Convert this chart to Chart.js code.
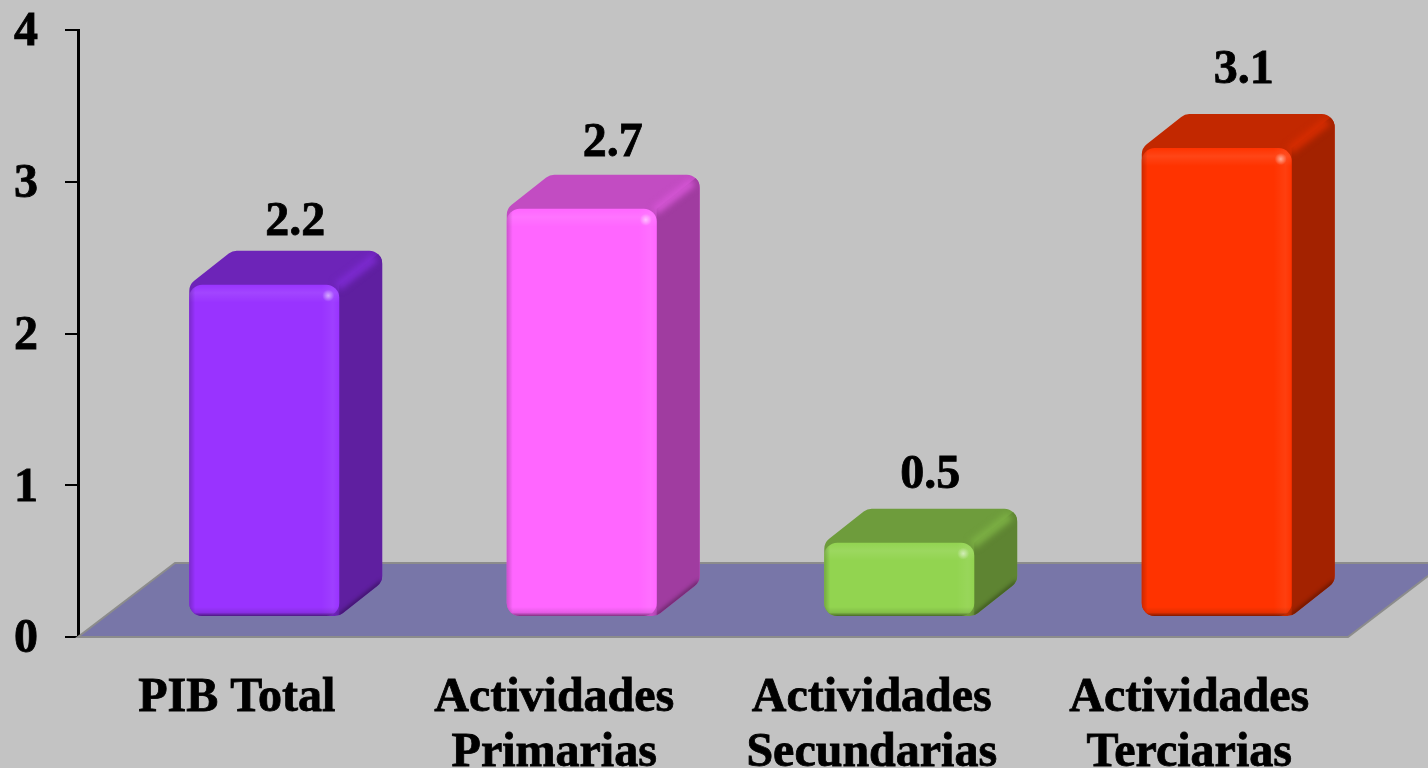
<!DOCTYPE html>
<html>
<head>
<meta charset="utf-8">
<title>PIB por actividad</title>
<script src="https://cdn.jsdelivr.net/npm/chart.js@4"></script>
<style>
    html, body { margin: 0; padding: 0; background: #c3c3c3; overflow: hidden; }
    canvas { display: block; }
</style>
</head>
<body>
<canvas id="chart" width="1428" height="768"></canvas>
<script>
// Data
const categories = ['PIB Total', ['Actividades', 'Primarias'], ['Actividades', 'Secundarias'], ['Actividades', 'Terciarias']];
const values = [2.2, 2.7, 0.5, 3.1];
const valueLabels = ['2.2', '2.7', '0.5', '3.1'];

// Colors per bar
const frontColors = ['#9933ff', '#ff66ff', '#92d450', '#ff3300'];
const topColors = ['#6d24b8', '#c24cc2', '#6e9c3c', '#c22800'];
const sideColors = ['#5f1fa0', '#a03ca0', '#5e8432', '#a32200'];
const ridgeColors = ['#7c2ad0', '#d455d4', '#7cb044', '#d62c00'];

const fontFamily = '"Liberation Serif", "Times New Roman", serif';
const depthX = 43;
const depthY = 34;
const barShiftX = 27.5;
const topLift = 18.5;
const bottomLift = 20;
const labelLift = [81, 84, 86, 96];
const labelShift = [31, 31, 31, 27];

// Rounded hexagon around the front face and its extruded back
function hullPath(ctx, l, r, t, b) {
    const pts = [[l, t], [l + depthX, t - depthY], [r + depthX, t - depthY], [r + depthX, b - depthY], [r, b], [l, b]];
    const rad = 13;
    ctx.beginPath();
    ctx.moveTo((pts[5][0] + pts[0][0]) / 2, (pts[5][1] + pts[0][1]) / 2);
    for (let i = 0; i < 6; i++) {
        const p = pts[i];
        const n = pts[(i + 1) % 6];
        ctx.arcTo(p[0], p[1], n[0], n[1], rad);
    }
    ctx.closePath();
}

function drawBar(ctx, el, i) {
    const w = el.width;
    const l = el.x + barShiftX - w / 2;
    const r = l + w;
    const t = el.y - topLift;
    const b = el.base - bottomLift;
    const h = b - t;

    // top face and side face
    ctx.save();
    hullPath(ctx, l, r, t, b);
    ctx.fillStyle = topColors[i];
    ctx.fill();
    ctx.clip();
    ctx.beginPath();
    ctx.moveTo(r, t);
    ctx.lineTo(r + depthX, t - depthY);
    ctx.lineTo(r + depthX, b - depthY);
    ctx.lineTo(r, b);
    ctx.closePath();
    ctx.fillStyle = sideColors[i];
    ctx.fill();

    // lit edge between top and side
    ctx.filter = 'blur(3px)';
    ctx.beginPath();
    ctx.moveTo(r - 2, t + 2);
    ctx.lineTo(r + depthX - 7, t - depthY + 7);
    ctx.strokeStyle = ridgeColors[i];
    ctx.lineWidth = 9;
    ctx.stroke();

    // dark lower rim of the side face
    ctx.filter = 'blur(2px)';
    ctx.beginPath();
    ctx.moveTo(r, b);
    ctx.lineTo(r + depthX, b - depthY);
    ctx.strokeStyle = 'rgba(0,0,0,0.4)';
    ctx.lineWidth = 4;
    ctx.stroke();
    ctx.restore();

    // front face
    ctx.save();
    ctx.beginPath();
    ctx.roundRect(l, t, w, h, 13);
    ctx.fillStyle = frontColors[i];
    ctx.fill();
    ctx.clip();

    const topBand = ctx.createLinearGradient(0, t, 0, t + 18);
    topBand.addColorStop(0, 'rgba(255,255,255,0)');
    topBand.addColorStop(0.45, 'rgba(255,255,255,0.09)');
    topBand.addColorStop(1, 'rgba(255,255,255,0)');
    ctx.fillStyle = topBand;
    ctx.fillRect(l, t, w, 18);

    const rightBand = ctx.createLinearGradient(r - 18, 0, r, 0);
    rightBand.addColorStop(0, 'rgba(255,255,255,0)');
    rightBand.addColorStop(0.65, 'rgba(255,255,255,0.06)');
    rightBand.addColorStop(1, 'rgba(255,255,255,0)');
    ctx.fillStyle = rightBand;
    ctx.fillRect(r - 18, t, 18, h);

    const leftBand = ctx.createLinearGradient(l, 0, l + 6, 0);
    leftBand.addColorStop(0, 'rgba(0,0,0,0.2)');
    leftBand.addColorStop(1, 'rgba(0,0,0,0)');
    ctx.fillStyle = leftBand;
    ctx.fillRect(l, t, 6, h);

    const bottomBand = ctx.createLinearGradient(0, b - 9, 0, b);
    bottomBand.addColorStop(0, 'rgba(0,0,0,0)');
    bottomBand.addColorStop(0.6, 'rgba(0,0,0,0.1)');
    bottomBand.addColorStop(1, 'rgba(0,0,0,0.5)');
    ctx.fillStyle = bottomBand;
    ctx.fillRect(l, b - 9, w, 9);

    // specular spot
    const spot = ctx.createRadialGradient(r - 11, t + 11, 0, r - 11, t + 11, 6);
    spot.addColorStop(0, 'rgba(255,255,255,0.55)');
    spot.addColorStop(1, 'rgba(255,255,255,0)');
    ctx.fillStyle = spot;
    ctx.fillRect(r - 20, t + 2, 18, 18);
    ctx.restore();
}

const scenePlugin = {
    id: 'scene',
    beforeDatasetsDraw(chart) {
        // floor
        const { ctx, chartArea: a } = chart;
        const rise = 74;
        ctx.save();
        ctx.beginPath();
        ctx.moveTo(a.left, a.bottom);
        ctx.lineTo(a.right, a.bottom);
        ctx.lineTo(a.right + 97, a.bottom - rise);
        ctx.lineTo(a.left + 97, a.bottom - rise);
        ctx.closePath();
        ctx.fillStyle = '#7876a8';
        ctx.fill();
        ctx.strokeStyle = '#8c8c8c';
        ctx.lineWidth = 2;
        ctx.stroke();
        ctx.restore();
    },
    afterDatasetsDraw(chart) {
        const ctx = chart.ctx;
        const bars = chart.getDatasetMeta(0).data;
        bars.forEach((el, i) => drawBar(ctx, el, i));

        ctx.save();
        ctx.font = 'bold 48px ' + fontFamily;
        ctx.fillStyle = '#000';
        ctx.strokeStyle = '#000';
        ctx.lineWidth = 0.8;
        ctx.textAlign = 'center';
        ctx.textBaseline = 'middle';
        bars.forEach((el, i) => {
            ctx.fillText(valueLabels[i], el.x + barShiftX + labelShift[i], el.y - labelLift[i]);
            ctx.strokeText(valueLabels[i], el.x + barShiftX + labelShift[i], el.y - labelLift[i]);
        });
        ctx.restore();
    }
};

new Chart(document.getElementById('chart'), {
    type: 'bar',
    data: {
        labels: categories,
        datasets: [{
            data: values,
            backgroundColor: 'transparent',
            barPercentage: 0.4724,
            categoryPercentage: 1
        }]
    },
    options: {
        responsive: false,
        animation: false,
        layout: { autoPadding: false, padding: { top: 30, right: 80, left: 0, bottom: 0 } },
        plugins: { legend: { display: false }, tooltip: { enabled: false } },
        scales: {
            x: {
                afterFit: s => { s.height = 131; },
                grid: { display: false },
                border: { display: false },
                ticks: {
                    color: '#000',
                    padding: 26,
                    maxRotation: 0,
                    autoSkip: false,
                    textStrokeColor: '#000',
                    textStrokeWidth: 0.8,
                    font: { family: fontFamily, size: 48, weight: 'bold', lineHeight: 1.15 }
                }
            },
            y: {
                min: 0,
                max: 4,
                afterFit: s => { s.width = 78; s.paddingTop = 0; s.paddingBottom = 0; },
                grid: { drawOnChartArea: false, color: '#000', lineWidth: 2, tickLength: 13 },
                border: { color: '#000', width: 3 },
                ticks: {
                    stepSize: 1,
                    color: '#000',
                    padding: 27,
                    labelOffset: 3,
                    textStrokeColor: '#000',
                    textStrokeWidth: 0.8,
                    font: { family: fontFamily, size: 48, weight: 'bold' }
                }
            }
        }
    },
    plugins: [scenePlugin]
});
</script>
</body>
</html>
